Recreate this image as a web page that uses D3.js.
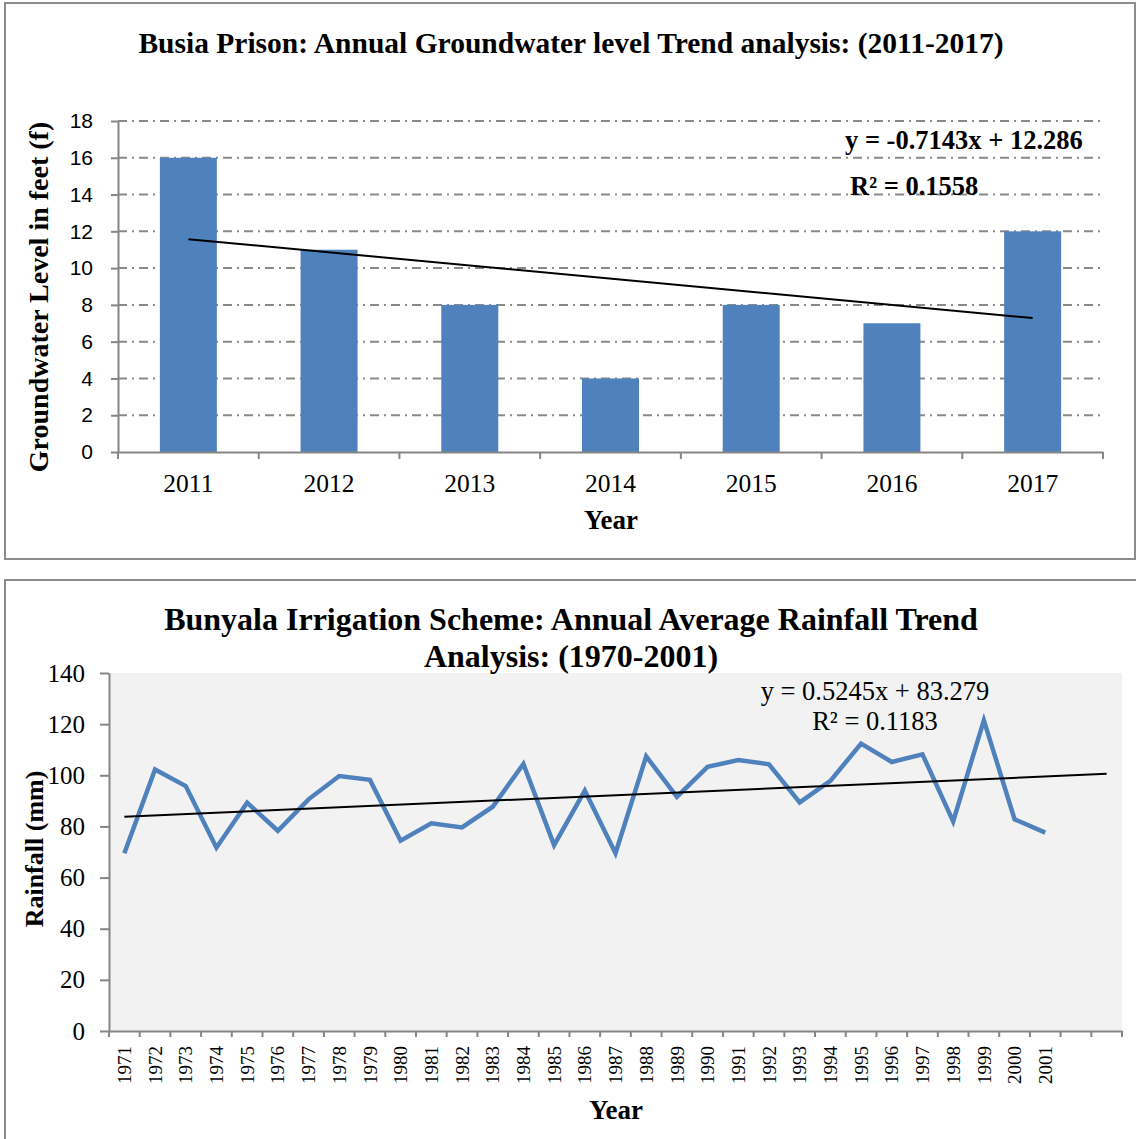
<!DOCTYPE html>
<html><head><meta charset="utf-8">
<script src="https://cdn.jsdelivr.net/npm/d3@7"></script>
<style>body{margin:0;background:#fff}svg{display:block}</style>
</head><body>
<svg id="c" width="1136" height="1139"></svg>
<script>
// ---------- DATA ----------
const gwYears = ["2011","2012","2013","2014","2015","2016","2017"];
const gwLevels = [16, 11, 8, 4, 8, 7, 12];
const gwTicks = [0, 2, 4, 6, 8, 10, 12, 14, 16, 18];
const gwSlope = -0.7143, gwIntercept = 12.286, gwR2 = "0.1558";

const rainYears = ["1971","1972","1973","1974","1975","1976","1977","1978","1979","1980",
  "1981","1982","1983","1984","1985","1986","1987","1988","1989","1990",
  "1991","1992","1993","1994","1995","1996","1997","1998","1999","2000","2001"];
const rainfall = [69.5, 102.3, 95.8, 71.7, 89.3, 78.3, 90.6, 99.7, 98.2, 74.4,
  81.2, 79.6, 87.7, 104.4, 72.7, 94.0, 69.5, 107.4, 91.6, 103.3,
  106.0, 104.3, 89.4, 97.8, 112.4, 105.2, 108.2, 82.0, 121.5, 82.8, 77.6];
const rainBlankCats = ["", ""];
const rainTicks = [0, 20, 40, 60, 80, 100, 120, 140];
const rainSlope = 0.5245, rainIntercept = 83.279, rainR2 = "0.1183";

// ---------- SETUP ----------
const svg = d3.select("#c");
const SERIF = "'Liberation Serif','Times New Roman',serif";
const SANS = "'Liberation Sans',Arial,sans-serif";
const AXIS = "#868686";
const BLUE = "#4F81BD";

// frames
svg.append("rect").attr("x",5).attr("y",3).attr("width",1130).attr("height",556)
  .attr("fill","none").attr("stroke","#8c8c8c").attr("stroke-width",2);
svg.append("rect").attr("x",5).attr("y",580).attr("width",1140).attr("height",580)
  .attr("fill","none").attr("stroke","#8c8c8c").attr("stroke-width",2);

// ---------- TOP CHART ----------
{
  const L = 118, R = 1103, T = 121, B = 452;
  const x = d3.scaleBand().domain(gwYears).range([L, R]).padding(0);
  const y = d3.scaleLinear().domain([0, 18]).range([B, T]);
  const g = svg.append("g");

  g.append("text").attr("x", 571).attr("y", 53).attr("text-anchor","middle")
    .attr("font-family", SERIF).attr("font-weight","bold").attr("font-size", 29.5)
    .text("Busia Prison: Annual Groundwater level Trend analysis: (2011-2017)");

  // grid
  g.selectAll(".grid").data(gwTicks.filter(d => d > 0)).join("line")
    .attr("x1", L).attr("x2", R).attr("y1", d => y(d)).attr("y2", d => y(d))
    .attr("stroke", "#898989").attr("stroke-width", 2).attr("stroke-dasharray", "9,5,2,5");

  // bars
  const bw = x.bandwidth() * 0.405;
  g.selectAll(".bar").data(gwLevels).join("rect")
    .attr("x", (d, i) => x(gwYears[i]) + x.bandwidth()/2 - bw/2)
    .attr("y", d => y(d)).attr("width", bw).attr("height", d => y(0) - y(d))
    .attr("fill", BLUE);

  // y axis
  const ya = g.append("g").attr("transform", `translate(${L},0)`)
    .call(d3.axisLeft(y).tickValues(gwTicks).tickSize(7).tickSizeOuter(0).tickPadding(18));
  ya.select(".domain").attr("stroke", AXIS).attr("stroke-width", 2);
  ya.selectAll(".tick line").attr("stroke", AXIS).attr("stroke-width", 2);
  ya.selectAll(".tick text").attr("font-family", SANS).attr("font-size", 21).attr("fill","#000");

  // x axis
  const xa = g.append("g").attr("transform", `translate(0,${B})`)
    .call(d3.axisBottom(x).tickSize(0).tickSizeOuter(0).tickPadding(22));
  xa.select(".domain").attr("stroke", AXIS).attr("stroke-width", 2);
  xa.selectAll(".tick text").attr("font-family", SERIF).attr("font-size", 25.5).attr("fill","#000");
  const bounds = gwYears.map(d => x(d)).concat([R]);
  g.selectAll(".xt").data(bounds).join("line")
    .attr("x1", d => d).attr("x2", d => d).attr("y1", B).attr("y2", B + 7)
    .attr("stroke", AXIS).attr("stroke-width", 2);

  // trend
  const cx = i => x(gwYears[i]) + x.bandwidth()/2;
  const n = gwYears.length;
  g.append("line").attr("x1", cx(0)).attr("y1", y(gwSlope*1 + gwIntercept))
    .attr("x2", cx(n-1)).attr("y2", y(gwSlope*n + gwIntercept))
    .attr("stroke","#000").attr("stroke-width", 2);

  g.append("text").attr("x", 845).attr("y", 149).attr("font-family", SERIF)
    .attr("font-weight","bold").attr("font-size", 26.5).text(`y = ${gwSlope}x + ${gwIntercept}`);
  g.append("text").attr("x", 850).attr("y", 195).attr("font-family", SERIF)
    .attr("font-weight","bold").attr("font-size", 26.5).text(`R² = ${gwR2}`);

  g.append("text").attr("transform", `translate(48,297) rotate(-90)`).attr("text-anchor","middle")
    .attr("font-family", SERIF).attr("font-weight","bold").attr("font-size", 28)
    .text("Groundwater Level in feet (f)");
  g.append("text").attr("x", 611).attr("y", 529).attr("text-anchor","middle")
    .attr("font-family", SERIF).attr("font-weight","bold").attr("font-size", 27).text("Year");
}

// ---------- BOTTOM CHART ----------
{
  const L = 109, R = 1122, T = 673, B = 1031;
  const cats = rainYears.concat(rainBlankCats);
  const x = d3.scaleBand().domain(d3.range(cats.length)).range([L, R]).padding(0);
  const y = d3.scaleLinear().domain([0, 140]).range([B, T]);
  const g = svg.append("g");
  const cx = i => x(i) + x.bandwidth()/2;

  g.append("rect").attr("x", L).attr("y", T).attr("width", R - L).attr("height", B - T).attr("fill", "#F2F2F2");

  g.append("text").attr("x", 571).attr("y", 630).attr("text-anchor","middle")
    .attr("font-family", SERIF).attr("font-weight","bold").attr("font-size", 32)
    .text("Bunyala Irrigation Scheme: Annual Average Rainfall Trend");
  g.append("text").attr("x", 571).attr("y", 667).attr("text-anchor","middle")
    .attr("font-family", SERIF).attr("font-weight","bold").attr("font-size", 32)
    .text("Analysis: (1970-2001)");

  const ya = g.append("g").attr("transform", `translate(${L},0)`)
    .call(d3.axisLeft(y).tickValues(rainTicks).tickSize(9).tickSizeOuter(0).tickPadding(15));
  ya.select(".domain").attr("stroke", AXIS).attr("stroke-width", 2);
  ya.selectAll(".tick line").attr("stroke", AXIS).attr("stroke-width", 2);
  ya.selectAll(".tick text").attr("font-family", SERIF).attr("font-size", 25).attr("fill","#000");

  const xa = g.append("g").attr("transform", `translate(0,${B})`)
    .call(d3.axisBottom(x).tickSize(0).tickSizeOuter(0).tickFormat(i => cats[i]));
  xa.select(".domain").attr("stroke", AXIS).attr("stroke-width", 2);
  xa.selectAll(".tick text").attr("font-family", SERIF).attr("font-size", 19).attr("fill","#000")
    .attr("transform", "rotate(-90)").attr("text-anchor","end").attr("dy", "0.35em")
    .attr("x", -15).attr("y", 0);
  const bounds = d3.range(cats.length).map(i => x(i)).concat([R]);
  g.selectAll(".xt").data(bounds).join("line")
    .attr("x1", d => d).attr("x2", d => d).attr("y1", B).attr("y2", B + 6)
    .attr("stroke", AXIS).attr("stroke-width", 2);

  g.append("path").datum(rainfall)
    .attr("d", d3.line().x((d, i) => cx(i)).y(d => y(d)))
    .attr("fill","none").attr("stroke", BLUE).attr("stroke-width", 4.5).attr("stroke-linejoin","miter");

  const n = cats.length;
  g.append("line").attr("x1", cx(0)).attr("y1", y(rainSlope*1 + rainIntercept))
    .attr("x2", cx(n-1)).attr("y2", y(rainSlope*n + rainIntercept))
    .attr("stroke","#000").attr("stroke-width", 2);

  g.append("text").attr("x", 875).attr("y", 700).attr("text-anchor","middle").attr("font-family", SERIF)
    .attr("font-size", 26.5).text(`y = ${rainSlope}x + ${rainIntercept}`);
  g.append("text").attr("x", 875).attr("y", 730).attr("text-anchor","middle").attr("font-family", SERIF)
    .attr("font-size", 26.5).text(`R² = ${rainR2}`);

  g.append("text").attr("transform", `translate(43,849) rotate(-90)`).attr("text-anchor","middle")
    .attr("font-family", SERIF).attr("font-weight","bold").attr("font-size", 26).text("Rainfall (mm)");
  g.append("text").attr("x", 616).attr("y", 1119).attr("text-anchor","middle")
    .attr("font-family", SERIF).attr("font-weight","bold").attr("font-size", 27).text("Year");
}
</script>
</body></html>
